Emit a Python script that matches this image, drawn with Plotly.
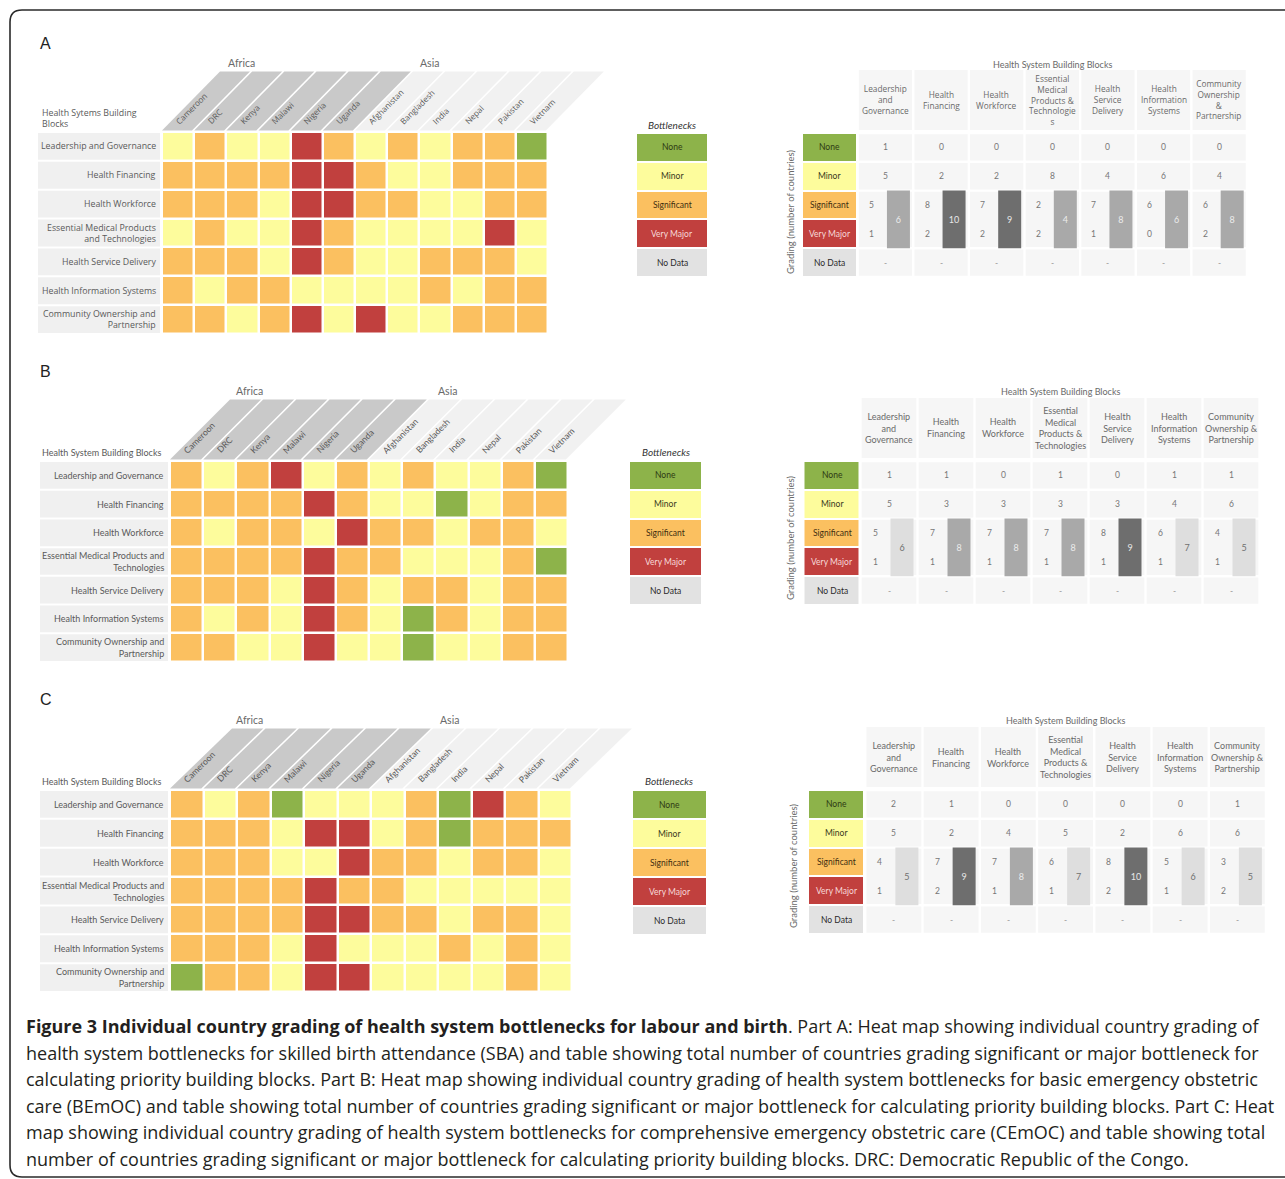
import plotly.graph_objects as go

W, H = 1285, 1179

# ---------------- data ----------------
COUNTRIES = ["Cameroon", "DRC", "Kenya", "Malawi", "Nigeria", "Uganda",
             "Afghanistan", "Bangladesh", "India", "Nepal", "Pakistan", "Vietnam"]
REGIONS = ["Africa"] * 6 + ["Asia"] * 6
BLOCKS_A = ["Leadership and Governance", "Health Financing", "Health Workforce",
            "Essential Medical Products<br>and Technologies", "Health Service Delivery",
            "Health Information Systems", "Community Ownership and<br>Partnership"]
BLOCKS_BC = ["Leadership and Governance", "Health Financing", "Health Workforce",
             "Essential Medical Products and<br>Technologies", "Health Service Delivery",
             "Health Information Systems", "Community Ownership and<br>Partnership"]
GRADE_NAMES = ["None", "Minor", "Significant", "Very Major", "No Data"]
TABLE_HEAD_A = ["Leadership<br>and<br>Governance", "Health<br>Financing", "Health<br>Workforce",
                "Essential<br>Medical<br>Products &<br>Technologie<br>s", "Health<br>Service<br>Delivery",
                "Health<br>Information<br>Systems", "Community<br>Ownership<br>&<br>Partnership"]
TABLE_HEAD_BC = ["Leadership<br>and<br>Governance", "Health<br>Financing", "Health<br>Workforce",
                 "Essential<br>Medical<br>Products &<br>Technologies", "Health<br>Service<br>Delivery",
                 "Health<br>Information<br>Systems", "Community<br>Ownership &<br>Partnership"]

# grade codes: 0 None, 1 Minor, 2 Significant, 3 Very Major
GRADES_A = [
    [1, 2, 1, 1, 3, 2, 1, 2, 1, 2, 2, 0],
    [2, 2, 2, 2, 3, 3, 2, 1, 1, 2, 2, 2],
    [2, 2, 2, 1, 3, 3, 2, 2, 1, 1, 2, 2],
    [1, 2, 1, 1, 3, 2, 1, 1, 1, 1, 3, 1],
    [2, 2, 2, 1, 3, 2, 1, 1, 2, 2, 2, 1],
    [2, 1, 2, 2, 1, 1, 1, 1, 2, 1, 2, 2],
    [2, 2, 1, 2, 3, 1, 3, 1, 1, 2, 2, 2],
]
GRADES_B = [
    [2, 1, 2, 3, 1, 2, 1, 2, 1, 1, 2, 0],
    [2, 2, 2, 2, 3, 2, 1, 1, 0, 1, 2, 2],
    [2, 1, 2, 2, 1, 3, 2, 2, 1, 2, 2, 1],
    [2, 2, 2, 2, 3, 2, 2, 1, 1, 1, 2, 0],
    [2, 2, 2, 1, 3, 2, 1, 2, 2, 1, 2, 2],
    [2, 1, 2, 1, 3, 2, 1, 0, 2, 1, 2, 2],
    [2, 2, 1, 1, 3, 1, 1, 0, 1, 1, 2, 2],
]
GRADES_C = [
    [2, 1, 2, 0, 1, 1, 1, 2, 0, 3, 2, 1],
    [2, 2, 2, 1, 3, 3, 1, 2, 0, 2, 2, 2],
    [2, 2, 2, 1, 1, 3, 2, 2, 1, 2, 2, 1],
    [2, 2, 2, 2, 3, 2, 2, 1, 1, 1, 1, 1],
    [2, 2, 2, 2, 3, 3, 2, 2, 1, 2, 2, 1],
    [2, 2, 2, 1, 3, 1, 1, 1, 2, 1, 2, 1],
    [0, 2, 2, 1, 3, 3, 1, 1, 1, 1, 2, 1],
]

NONE_A = [1, 0, 0, 0, 0, 0, 0]
MINOR_A = [5, 2, 2, 8, 4, 6, 4]
SIG_A = [5, 8, 7, 2, 7, 6, 6]
VMAJ_A = [1, 2, 2, 2, 1, 0, 2]
TOTAL_A = [6, 10, 9, 4, 8, 6, 8]

NONE_B = [1, 1, 0, 1, 0, 1, 1]
MINOR_B = [5, 3, 3, 3, 3, 4, 6]
SIG_B = [5, 7, 7, 7, 8, 6, 4]
VMAJ_B = [1, 1, 1, 1, 1, 1, 1]
TOTAL_B = [6, 8, 8, 8, 9, 7, 5]

NONE_C = [2, 1, 0, 0, 0, 0, 1]
MINOR_C = [5, 2, 4, 5, 2, 6, 6]
SIG_C = [4, 7, 7, 6, 8, 5, 3]
VMAJ_C = [1, 2, 1, 1, 2, 1, 2]
TOTAL_C = [5, 9, 8, 7, 10, 6, 5]

# ---------------- styles ----------------
GRADE_COLORS = ["#8db34a", "#fdfc9c", "#fbc060", "#c1403e", "#e2e2e2"]
GRADE_TEXT = ["#2e3a14", "#3b3a1c", "#3e2e10", "#f7d8d8", "#2b2b2b"]
SHADE_COLORS = {"d": "#6e6e6e", "m": "#a9a9a9", "l": "#dedede"}
SHADE_TEXT = {"d": "#e8e8e8", "m": "#ececec", "l": "#707070"}
SHADE_A = ["m", "d", "d", "m", "m", "m", "m"]
SHADE_B = ["l", "m", "m", "m", "d", "l", "l"]
SHADE_C = ["l", "d", "m", "l", "d", "l", "l"]
TXT = "#5a5a5a"
FONT = "Lato"

fig = go.Figure()
layout_axes = {}
shapes = []
annotations = []
count = [0]


def new_axes(box, grid, ncols, nrows):
    count[0] += 1
    n = count[0]
    x0, x1, y0, y1 = box
    gx0, gx1, gy0, gy1 = grid
    pw = (gx1 - gx0) / ncols
    ph = (gy1 - gy0) / nrows
    xr = [-0.5 - (gx0 - x0) / pw, ncols - 0.5 + (x1 - gx1) / pw]
    yr = [nrows - 0.5 + (y1 - gy1) / ph, -0.5 - (gy0 - y0) / ph]
    sfx = "" if n == 1 else str(n)
    layout_axes["xaxis" + sfx] = dict(domain=[x0 / W, x1 / W], range=xr, visible=False,
                                      fixedrange=True, anchor="y" + sfx)
    layout_axes["yaxis" + sfx] = dict(domain=[1 - y1 / H, 1 - y0 / H], range=yr, visible=False,
                                      fixedrange=True, anchor="x" + sfx)

    def to_data(px, py):
        return (px - gx0) / pw - 0.5, (py - gy0) / ph - 0.5
    return "x" + sfx, "y" + sfx, pw, ph, to_data


def ann(text, x, y, xref="paper", yref="paper", size=9, color=TXT, family=FONT, **kw):
    if xref == "paper":
        x = x / W
    if yref == "paper":
        y = 1 - y / H
    d = dict(text=text, x=x, y=y, xref=xref, yref=yref, showarrow=False,
             xanchor="center", yanchor="middle",
             font=dict(size=size, color=color, family=family))
    d.update(kw)
    annotations.append(d)


def discrete_scale(colors):
    n = len(colors)
    sc = []
    for i, c in enumerate(colors):
        sc.append([i / n, c])
        sc.append([(i + 1) / n, c])
    return sc


def heat_panel(grades, blocks, p):
    xr, yr, pw, ph, td = new_axes(p["box"], p["grid"], len(COUNTRIES), len(blocks))
    fam = p["family"]
    # label band
    bx0, _ = td(p["band_x0"], 0)
    for r in range(len(blocks)):
        shapes.append(dict(type="rect", xref=xr, yref=yr, x0=bx0, x1=-0.5 - 2 / pw,
                           y0=r - 0.5 + 1 / ph, y1=r + 0.5 - 1 / ph,
                           fillcolor="#f0f0f0", line=dict(width=0), layer="below"))
        ann(blocks[r], -0.5 - 4 / pw, r, xref=xr, yref=yr, size=p["lsize"], family=fam,
            xanchor="right", align="right")
    # slanted headers
    hh = p["header_h"] / ph
    s = p["slant"] / pw
    g = 2.2 / pw
    yb = -0.5 - 1.5 / ph
    for i, (c, reg) in enumerate(zip(COUNTRIES, REGIONS)):
        col = "#c9c9c9" if reg == "Africa" else "#f1f1f1"
        path = (f"M {i - 0.5} {yb} L {i + 0.5 - g} {yb} L {i + 0.5 - g + s} {yb - hh} "
                f"L {i - 0.5 + s} {yb - hh} Z")
        shapes.append(dict(type="path", xref=xr, yref=yr, path=path, fillcolor=col,
                           line=dict(width=0), layer="below"))
        ann(c, i - 0.25, yb - 0.05, xref=xr, yref=yr, size=p["csize"], family=fam,
            textangle=-45, xanchor="left", yanchor="bottom")
    # region labels
    for reg, (px, py) in (("Africa", p["africa"]), ("Asia", p["asia"])):
        ann(reg, px, py, size=10.5, color="#6a6a6a")
    ann(p["hdr_text"], p["hdr"][0], p["hdr"][1], size=p["lsize"], family=fam,
        xanchor="left", align="left")
    fig.add_trace(go.Heatmap(z=grades, x=list(range(len(COUNTRIES))), y=list(range(len(blocks))),
                             zmin=-0.5, zmax=3.5, colorscale=discrete_scale(GRADE_COLORS[:4]),
                             xgap=2.5, ygap=2.5, showscale=False, hoverinfo="skip",
                             xaxis=xr, yaxis=yr))


def legend_panel(p):
    xr, yr, pw, ph, td = new_axes(p["lbox"], p["lgrid"], 1, len(GRADE_NAMES))
    fig.add_trace(go.Heatmap(z=[[i] for i in range(len(GRADE_NAMES))], x=[0],
                             y=list(range(len(GRADE_NAMES))), zmin=-0.5, zmax=4.5,
                             colorscale=discrete_scale(GRADE_COLORS), ygap=2,
                             showscale=False, hoverinfo="skip", xaxis=xr, yaxis=yr))
    for i, nm in enumerate(GRADE_NAMES):
        ann(nm, 0, i, xref=xr, yref=yr, size=8.5, color=GRADE_TEXT[i])
    ann("<i>Bottlenecks</i>", p["ltitle"][0], p["ltitle"][1], size=10, color="#333333")


def table_panel(none, minor, sig, vmaj, total, shade, heads, p):
    gx0, gx1, gy0, gy1 = p["tgrid"]
    box = (gx0 - 4, gx1 + 4, p["ttitle_y"] - 12, gy1 + 4)
    xr, yr, pw, ph, td = new_axes(box, p["tgrid"], len(heads) + 1, len(GRADE_NAMES))
    fam = p["family"]
    # label column
    fig.add_trace(go.Heatmap(z=[[i] for i in range(len(GRADE_NAMES))], x=[0],
                             y=list(range(len(GRADE_NAMES))), zmin=-0.5, zmax=4.5,
                             colorscale=discrete_scale(GRADE_COLORS), ygap=2, xgap=3,
                             showscale=False, hoverinfo="skip", xaxis=xr, yaxis=yr))
    for i, nm in enumerate(GRADE_NAMES):
        ann(nm, 0, i, xref=xr, yref=yr, size=8.5, color=GRADE_TEXT[i])
    g = 1.2 / pw
    gy = 1.2 / ph
    _, hy0 = td(0, p["thead"][0])
    _, hy1 = td(0, p["thead"][1])
    for c in range(len(heads)):
        x = c + 1
        shapes.append(dict(type="rect", xref=xr, yref=yr, x0=x - 0.5 + g, x1=x + 0.5 - g,
                           y0=hy0, y1=hy1, fillcolor="#f6f6f6", line=dict(width=0), layer="below"))
        for (r0, r1) in ((0, 0), (1, 1), (2, 3), (4, 4)):
            shapes.append(dict(type="rect", xref=xr, yref=yr, x0=x - 0.5 + g, x1=x + 0.5 - g,
                               y0=r0 - 0.5 + gy, y1=r1 + 0.5 - gy, fillcolor="#f6f6f6",
                               line=dict(width=0), layer="below"))
        ann(heads[c], x, (hy0 + hy1) / 2, xref=xr, yref=yr, size=p["hsize"], family=fam,
            color="#6a6a6a")
        ann(str(none[c]), x, 0, xref=xr, yref=yr, size=8.5, color="#777777")
        ann(str(minor[c]), x, 1, xref=xr, yref=yr, size=8.5, color="#777777")
        ann(str(sig[c]), x - 14 / pw, 2, xref=xr, yref=yr, size=8.5, color="#777777")
        ann(str(vmaj[c]), x - 14 / pw, 3, xref=xr, yref=yr, size=8.5, color="#777777")
        ann("-", x, 4, xref=xr, yref=yr, size=8.5, color="#999999")
    sig_row, vm_row = GRADE_NAMES.index("Significant"), GRADE_NAMES.index("Very Major")
    fig.add_trace(go.Bar(x=[c + 1 + 13 / pw for c in range(len(total))],
                         y=[vm_row - sig_row + 1] * len(total), base=sig_row - 0.5,
                         width=23 / pw, marker=dict(color=[SHADE_COLORS[s] for s in shade],
                                                    line=dict(width=0)),
                         text=[str(t) for t in total], textposition="inside",
                         insidetextanchor="middle", textangle=0,
                         textfont=dict(size=9, family=FONT, color=[SHADE_TEXT[s] for s in shade]),
                         hoverinfo="skip", xaxis=xr, yaxis=yr, showlegend=False))
    ann("Health System Building Blocks", (gx0 + pw + gx1) / 2, p["ttitle_y"], size=9,
        color="#6a6a6a")
    ann("Grading (number of countries)", p["ytitle"][0], p["ytitle"][1], size=9.5,
        color="#6a6a6a", textangle=-90)


PANELS = [
    dict(letter="A", letter_y=43, box=(30, 615, 55, 336), grid=(162, 548, 132, 334), band_x0=38,
         header_h=59, slant=58, hdr_text="Health Sytems Building<br>Blocks", hdr=(40, 118),
         africa=(241, 63), asia=(430, 63), family="Open Sans", lsize=8.8, csize=8.2,
         lbox=(630, 712, 115, 280), lgrid=(637, 707, 133, 277), ltitle=(672, 125),
         tgrid=(802, 1247, 133, 277), thead=(70, 130), ttitle_y=64, ytitle=(790, 212), hsize=8.3),
    dict(letter="B", letter_y=371, box=(30, 640, 383, 664), grid=(170, 568, 461, 662), band_x0=40,
         header_h=60, slant=60, hdr_text="Health System Building Blocks", hdr=(40, 452),
         africa=(249, 391), asia=(447, 391), family=FONT, lsize=9, csize=8.7,
         lbox=(625, 706, 443, 608), lgrid=(630, 701, 461, 605), ltitle=(666, 452),
         tgrid=(803.5, 1259.5, 461, 605), thead=(398, 458), ttitle_y=391, ytitle=(790, 538),
         hsize=9),
    dict(letter="C", letter_y=699, box=(30, 645, 712, 994), grid=(170, 572, 790, 992), band_x0=40,
         header_h=60, slant=62, hdr_text="Health System Building Blocks", hdr=(40, 781),
         africa=(249, 720), asia=(449, 720), family=FONT, lsize=9, csize=8.7,
         lbox=(628, 711, 772, 938), lgrid=(633, 706, 790, 935), ltitle=(669, 781),
         tgrid=(808, 1266, 790, 934), thead=(727, 787), ttitle_y=720, ytitle=(793, 866),
         hsize=9),
]
DATA = [
    (GRADES_A, BLOCKS_A, NONE_A, MINOR_A, SIG_A, VMAJ_A, TOTAL_A, SHADE_A, TABLE_HEAD_A),
    (GRADES_B, BLOCKS_BC, NONE_B, MINOR_B, SIG_B, VMAJ_B, TOTAL_B, SHADE_B, TABLE_HEAD_BC),
    (GRADES_C, BLOCKS_BC, NONE_C, MINOR_C, SIG_C, VMAJ_C, TOTAL_C, SHADE_C, TABLE_HEAD_BC),
]

for p, (gr, bl, nn, mi, sg, vm, tt, sh, hd) in zip(PANELS, DATA):
    heat_panel(gr, bl, p)
    legend_panel(p)
    table_panel(nn, mi, sg, vm, tt, sh, hd, p)
    ann(p["letter"], 38, p["letter_y"], size=16, color="#222222", family="Liberation Sans",
        xanchor="left")

# caption
CAPTION = [
    "<b>Figure 3 Individual country grading of health system bottlenecks for labour and birth</b>. "
    "Part A: Heat map showing individual country grading of",
    "health system bottlenecks for skilled birth attendance (SBA) and table showing total number of "
    "countries grading significant or major bottleneck for",
    "calculating priority building blocks. Part B: Heat map showing individual country grading of "
    "health system bottlenecks for basic emergency obstetric",
    "care (BEmOC) and table showing total number of countries grading significant or major bottleneck "
    "for calculating priority building blocks. Part C: Heat",
    "map showing individual country grading of health system bottlenecks for comprehensive emergency "
    "obstetric care (CEmOC) and table showing total",
    "number of countries grading significant or major bottleneck for calculating priority building "
    "blocks. DRC: Democratic Republic of the Congo.",
]
for i, line in enumerate(CAPTION):
    ann(line, 24, 1026 + i * 26.6, size=18, color="#231f20", family="Open Sans",
        xanchor="left")


def fx(px):
    return px / W


def fy(py):
    return 1 - py / H


border = (f"M {fx(10)} {fy(1165)} L {fx(10)} {fy(22)} Q {fx(10)} {fy(10)} {fx(22)} {fy(10)} "
          f"L {fx(1300)} {fy(10)} M {fx(10)} {fy(1165)} Q {fx(10)} {fy(1177)} {fx(22)} {fy(1177)} "
          f"L {fx(1300)} {fy(1177)}")
shapes.append(dict(type="path", xref="paper", yref="paper", path=border,
                   line=dict(color="#2a2a2a", width=1.6)))

fig.update_layout(width=W, height=H, margin=dict(l=0, r=0, t=0, b=0),
                  paper_bgcolor="white", plot_bgcolor="rgba(0,0,0,0)",
                  showlegend=False, shapes=shapes, annotations=annotations,
                  font=dict(family=FONT), **layout_axes)
fig.write_html("out.html", config={"displayModeBar": False},
               post_script="document.body.style.margin='0px';")
